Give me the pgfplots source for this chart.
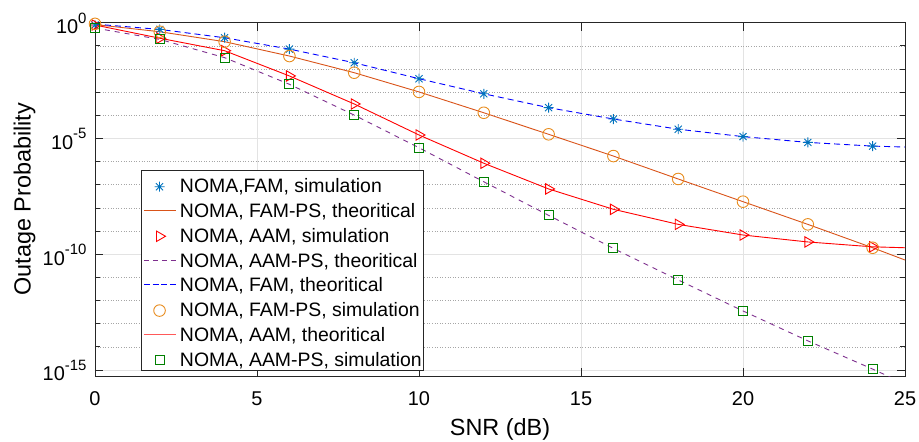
\documentclass[border=0pt]{standalone}
\usepackage{fontspec}
\setmainfont{Liberation Sans}
\usepackage{pgfplots}
\usepackage{pgfplotstable}
\pgfplotsset{compat=1.18}
\definecolor{mblue}{rgb}{0,0.447,0.741}
\definecolor{morange}{rgb}{0.85,0.325,0.098}
\definecolor{mcirc}{RGB}{232,140,30}
\definecolor{mpurple}{rgb}{0.494,0.184,0.556}
\definecolor{mgreen}{rgb}{0,0.5,0}
\definecolor{axgray}{rgb}{0.15,0.15,0.15}
\definecolor{lred}{rgb}{1,0.35,0.35}
\pgfdeclareplotmark{ast8}{%
  \pgfpathmoveto{\pgfqpoint{0pt}{\pgfplotmarksize}}\pgfpathlineto{\pgfqpoint{0pt}{-\pgfplotmarksize}}%
  \pgfpathmoveto{\pgfqpoint{\pgfplotmarksize}{0pt}}\pgfpathlineto{\pgfqpoint{-\pgfplotmarksize}{0pt}}%
  \pgfpathmoveto{\pgfqpoint{0.7071\pgfplotmarksize}{0.7071\pgfplotmarksize}}\pgfpathlineto{\pgfqpoint{-0.7071\pgfplotmarksize}{-0.7071\pgfplotmarksize}}%
  \pgfpathmoveto{\pgfqpoint{-0.7071\pgfplotmarksize}{0.7071\pgfplotmarksize}}\pgfpathlineto{\pgfqpoint{0.7071\pgfplotmarksize}{-0.7071\pgfplotmarksize}}%
  \pgfusepathqstroke}
\newcommand{\tl}[1]{10\raisebox{10.3bp}{\fontsize{15}{15}\selectfont #1}}
\newcommand{\lsolid}[1]{\llap{\textcolor{#1}{\rule[6.5bp]{32bp}{0.9bp}}\hspace{4bp}}}
\newcommand{\ldash}[3]{\llap{\textcolor{#1}{\rule[6.5bp]{#2}{0.9bp}\hspace{#3}\rule[6.5bp]{#2}{0.9bp}\hspace{#3}\rule[6.5bp]{#2}{0.9bp}\hspace{#3}\rule[6.5bp]{#2}{0.9bp}}\hspace{4bp}}}
\pgfplotsset{
  linelegend/.style={legend image code/.code={\path (0bp,-3bp) (32bp,-3bp);}},
  marklegend/.style={legend image code/.code={\path (0bp,-3bp) (32bp,-3bp);\draw[##1] plot coordinates {(16bp,-3bp)};}},
}
\pgfplotstableread{
x famsim fampssim aamsim aampssim
0 -0.10 -0.05 -0.10 -0.23
2 -0.29 -0.39 -0.67 -0.72
4 -0.65 -0.82 -1.21 -1.51
6 -1.14 -1.44 -2.30 -2.66
8 -1.73 -2.16 -3.51 -3.99
10 -2.42 -2.99 -4.85 -5.40
12 -3.07 -3.89 -6.07 -6.87
14 -3.67 -4.82 -7.18 -8.32
16 -4.16 -5.76 -8.06 -9.75
18 -4.60 -6.75 -8.71 -11.11
20 -4.92 -7.73 -9.17 -12.45
22 -5.17 -8.71 -9.47 -13.74
24 -5.33 -9.72 -9.68 -14.96
}\simtab
\pgfplotstableread{
x fam famps aam aamps
0 -0.06 -0.08 -0.10 -0.23
2 -0.29 -0.39 -0.67 -0.72
4 -0.65 -0.82 -1.21 -1.51
6 -1.14 -1.44 -2.30 -2.66
8 -1.73 -2.16 -3.51 -3.99
10 -2.42 -2.99 -4.85 -5.40
12 -3.07 -3.89 -6.07 -6.87
14 -3.67 -4.82 -7.18 -8.32
16 -4.16 -5.76 -8.06 -9.75
18 -4.60 -6.75 -8.71 -11.11
20 -4.92 -7.73 -9.17 -12.45
22 -5.17 -8.71 -9.47 -13.74
24 -5.33 -9.72 -9.68 -14.96
25 -5.37 -10.25 -9.72 -15.60
}\theotab
\begin{document}
\begin{tikzpicture}
\begin{axis}[
  at={(0,0)}, anchor=south west,
  scale only axis, width=810bp, height=353.3bp,
  ymode=log,
  xmin=0, xmax=25, ymin=5.5e-16, ymax=1,
  xtick={0,5,10,15,20,25},
  xticklabels={0,5,10,15,20,25},
  ytick={1e-15,1e-10,1e-5,1},
  yticklabels={\tl{-15},\tl{-10},\tl{-5},\tl{0}},
  minor ytick={1e-14,1e-13,1e-12,1e-11,1e-9,1e-8,1e-7,1e-6,1e-4,1e-3,1e-2,1e-1},
  xmajorgrids, ymajorgrids, yminorgrids,
  major grid style={line width=0.9bp, color=black!11},
  minor grid style={line width=0.6bp, color=black!35, dotted},
  axis line style={line width=0.8bp, color=axgray},
  tick style={line width=0.8bp, color=axgray},
  tick align=inside,
  major tick length=8bp, minor tick length=5bp,
  ticklabel style={font=\fontsize{20}{24}\selectfont, text=black},
  xticklabel style={anchor=base, inner sep=0pt, yshift=-29bp},
  yticklabel style={anchor=base east, inner sep=0pt, xshift=-8.3bp, yshift=-10.8bp},
  xlabel={SNR (dB)},
  ylabel={Outage Probability},
  label style={font=\fontsize{23.5}{28}\selectfont},
  xlabel style={at={(axis description cs:0.5,0)}, anchor=base, inner sep=0pt, yshift=-59bp},
  ylabel style={at={(axis description cs:-0.0795,0.5)}, anchor=base, inner sep=0pt},
  legend cell align=left,
  legend style={at={(0.0564,0.583)}, anchor=north west, draw=axgray, line width=0.8bp,
    fill=white, font=\fontsize{19.5}{22}\selectfont,
    inner xsep=2bp, inner ysep=4.3bp, row sep=6.77bp,
    nodes={inner sep=0pt, text height=18bp, text depth=0bp},
    column sep=4bp},
]
\addplot[mblue, line width=0.9bp, mark=ast8, mark size=5bp, only marks, marklegend]
  table[x=x, y expr={10^(\thisrow{famsim})}] {\simtab};
\addlegendentry{NOMA,FAM, simulation}
\addplot[morange, line width=0.9bp, no marks, linelegend]
  table[x=x, y expr={10^(\thisrow{famps})}] {\theotab};
\addlegendentry{\lsolid{morange}NOMA, FAM-PS, theoritical}
\addplot[red, line width=0.9bp, mark=triangle, mark size=6bp, mark options={rotate=-90}, only marks, marklegend]
  table[x=x, y expr={10^(\thisrow{aamsim})}] {\simtab};
\addlegendentry{NOMA, AAM, simulation}
\addplot[mpurple, line width=0.9bp, dash pattern=on 5bp off 5bp, no marks, linelegend]
  table[x=x, y expr={10^(\thisrow{aamps})}] {\theotab};
\addlegendentry{\ldash{mpurple}{5bp}{4bp}NOMA, AAM-PS, theoritical}
\addplot[blue, line width=0.9bp, dash pattern=on 6bp off 4bp, no marks, linelegend]
  table[x=x, y expr={10^(\thisrow{fam})}] {\theotab};
\addlegendentry{\ldash{blue}{6bp}{2.67bp}NOMA, FAM, theoritical}
\addplot[mcirc, line width=0.9bp, mark=o, mark size=5.8bp, only marks, marklegend]
  table[x=x, y expr={10^(\thisrow{fampssim})}] {\simtab};
\addlegendentry{NOMA, FAM-PS, simulation}
\addplot[red, line width=0.9bp, no marks, linelegend]
  table[x=x, y expr={10^(\thisrow{aam})}] {\theotab};
\addlegendentry{\lsolid{lred}NOMA, AAM, theoritical}
\addplot[mgreen, line width=0.9bp, mark=square, mark size=4.5bp, only marks, marklegend]
  table[x=x, y expr={10^(\thisrow{aampssim})}] {\simtab};
\addlegendentry{NOMA, AAM-PS, simulation}
\end{axis}
\pgfresetboundingbox
\path[use as bounding box] (-95bp,-66bp) rectangle (824bp,376bp);
\end{tikzpicture}
\end{document}
